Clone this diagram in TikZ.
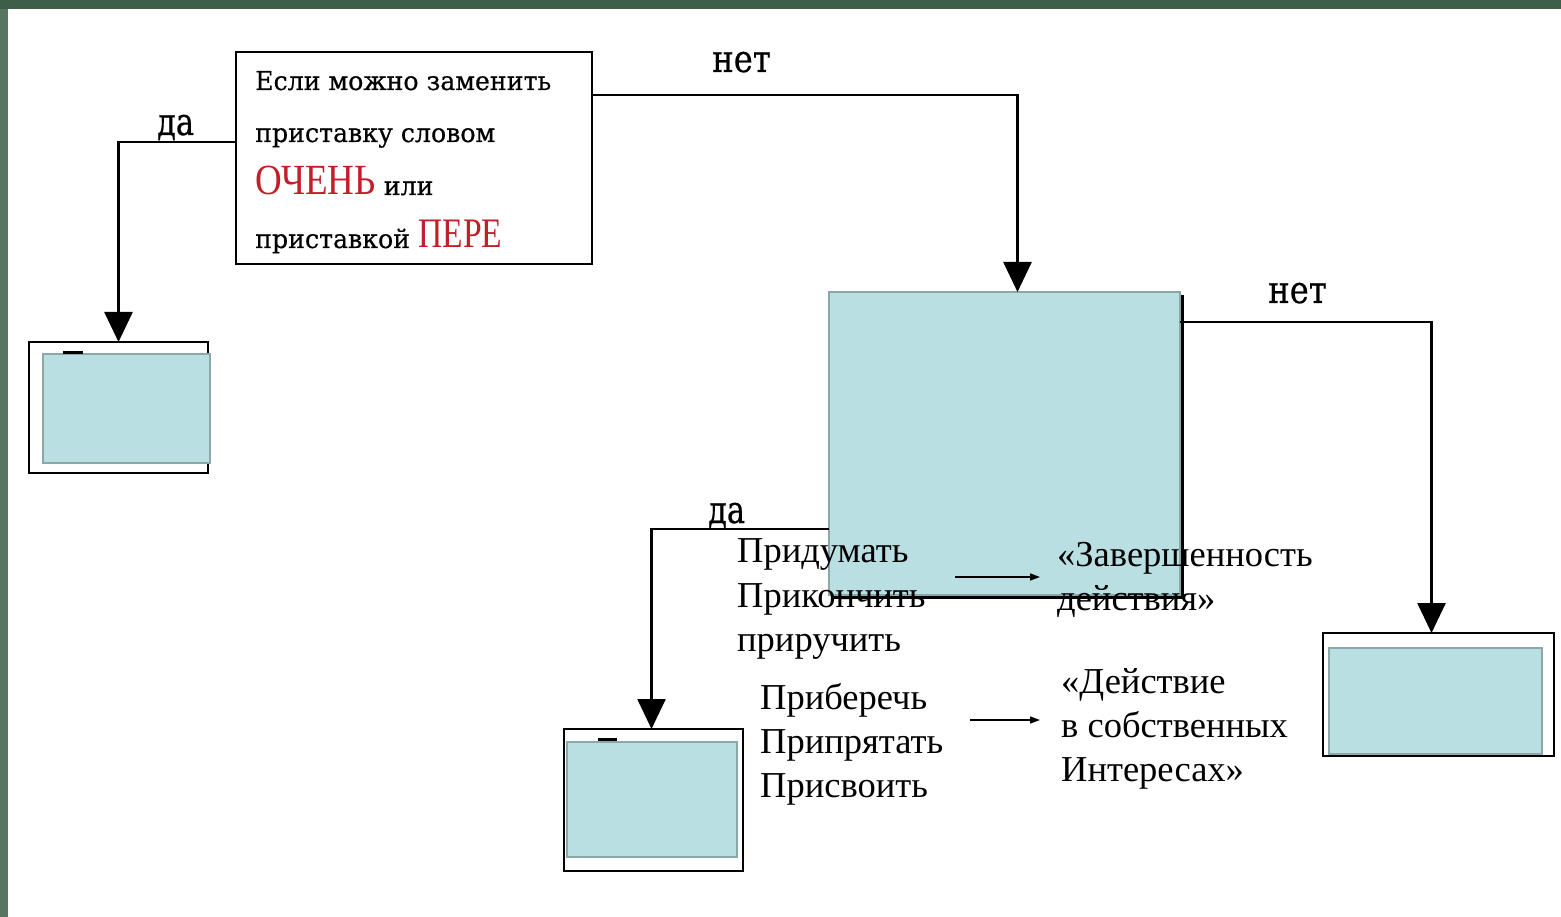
\documentclass[tikz,border=0pt]{standalone}
\usepackage{graphicx}
\usepackage{fontspec}
\setmainfont{Liberation Serif}
\newfontfamily\boxfont[FakeBold=0.5]{DejaVu Serif}
\usetikzlibrary{arrows.meta,shadows}
\definecolor{boxcyan}{HTML}{B9DFE2}
\definecolor{boxedge}{HTML}{8AA8A8}
\definecolor{wordred}{HTML}{C41E2A}
\definecolor{bandtop}{HTML}{3E5E4A}
\definecolor{bandleft}{HTML}{58755F}
\begin{document}
\begin{tikzpicture}[x=1pt,y=-1pt,
  frame/.style={draw=black,line width=2.8pt,fill=white,anchor=north west,inner sep=0pt,outer sep=0pt},
  panel/.style={draw=boxedge,line width=2pt,fill=boxcyan,anchor=north west,inner sep=0pt,outer sep=0pt},
  conn/.style={draw=black,line width=2.6pt,-{Triangle[width=28pt,length=30pt]}},
  thinarrow/.style={draw=black,line width=1.6pt,-{Triangle[width=7pt,length=10pt]}},
  boxtext/.style={anchor=base west,inner sep=0pt,font=\boxfont\fontsize{26}{30}\selectfont},
  lbl/.style={anchor=base west,inner sep=0pt,font=\boxfont\fontsize{38}{40}\selectfont},
  words/.style={anchor=base west,inner sep=0pt,font=\fontsize{36.5}{42}\selectfont},
  redword/.style={text=wordred}
]
\useasboundingbox (0,0) rectangle (1561,917);
\fill[white] (0,0) rectangle (1561,917);
\fill[bandleft] (0,0) rectangle (8,917);
\fill[bandtop] (0,0) rectangle (1561,9);

% top decision box
\node[frame,minimum width=356pt,minimum height=212pt] (tb) at (236,52) {};
\node[boxtext] (tb1) at (255,90) {\scalebox{0.97}[1]{Если можно заменить}};
\node[boxtext] (tb2) at (255,142) {\scalebox{0.97}[1]{приставку словом}};
\node[boxtext] (tb3) at (255,195) {{\color{wordred}\rmfamily\fontsize{43}{44}\selectfont\scalebox{0.86}[1]{ОЧЕНЬ}} \scalebox{0.97}[1]{или}};
\node[boxtext] (tb4) at (255,248) {\scalebox{0.97}[1]{приставкой} {\color{wordred}\rmfamily\fontsize{42}{44}\selectfont\scalebox{0.8}[1]{ПЕРЕ}}};

% left result box
\node[frame,minimum width=179pt,minimum height=131pt] (lb) at (29,342) {};
\node[panel,minimum width=167pt,minimum height=109pt] (lbp) at (43,354) {};
\draw[line width=3pt] (lbp.north west) ++(20,-2) coordinate (lbd) -- ++(20,0);

% middle decision box
\node[panel,minimum width=351pt,minimum height=303pt,
  general shadow={fill=black,shadow xshift=3.5pt,shadow yshift=-3.5pt}] (mid) at (829,292) {};

% bottom result box
\node[frame,minimum width=179pt,minimum height=142pt] (bb) at (564,729) {};
\node[panel,minimum width=170pt,minimum height=115pt] (bbp) at (567,742) {};
\draw[line width=3pt] (bbp.north west) ++(31,-3) coordinate (bbd) -- ++(19,0);

% right result box
\node[frame,minimum width=231pt,minimum height=123pt] (rb) at (1323,633) {};
\node[panel,minimum width=213pt,minimum height=106pt] (rbp) at (1329,648) {};

% connectors
\draw[conn] ([yshift=-90pt]tb.north west) -| (lb.north);
\draw[conn] ([yshift=-43pt]tb.north east) -| ([xshift=13pt]mid.north);
\draw[conn] ([yshift=-30pt]mid.north east) -| ([xshift=-7pt]rb.north);
\draw[conn] ([yshift=-237pt]mid.north west) -| ([xshift=-2pt]bb.north);

% connector labels
\node[lbl] (da1) at (157,135) {\scalebox{0.8}[1]{да}};
\node[lbl] (net1) at (712,72) {\scalebox{0.85}[1]{нет}};
\node[lbl] (net2) at (1268,303) {\scalebox{0.85}[1]{нет}};
\node[lbl] (da2) at (708,523) {\scalebox{0.8}[1]{да}};

% word lists
\node[words] (w1) at (737,562) {Придумать};
\node[words] (w2) at (737,607) {Прикончить};
\node[words] (w3) at (737,651) {приручить};
\node[words] (w4) at (760,709) {Приберечь};
\node[words] (w5) at (760,753) {Припрятать};
\node[words] (w6) at (760,797) {Присвоить};
\node[words] (m1) at (1057,566) {«Завершенность};
\node[words] (m2) at (1057,610) {действия»};
\node[words] (m3) at (1061,693) {«Действие};
\node[words] (m4) at (1061,737) {в собственных};
\node[words] (m5) at (1061,781) {Интересах»};

\coordinate (a1s) at (955,577);
\coordinate (a1e) at (1040,577);
\coordinate (a2s) at (970,720);
\coordinate (a2e) at (1040,720);
\draw[thinarrow] (a1s) -- (a1e);
\draw[thinarrow] (a2s) -- (a2e);
\end{tikzpicture}
\end{document}
